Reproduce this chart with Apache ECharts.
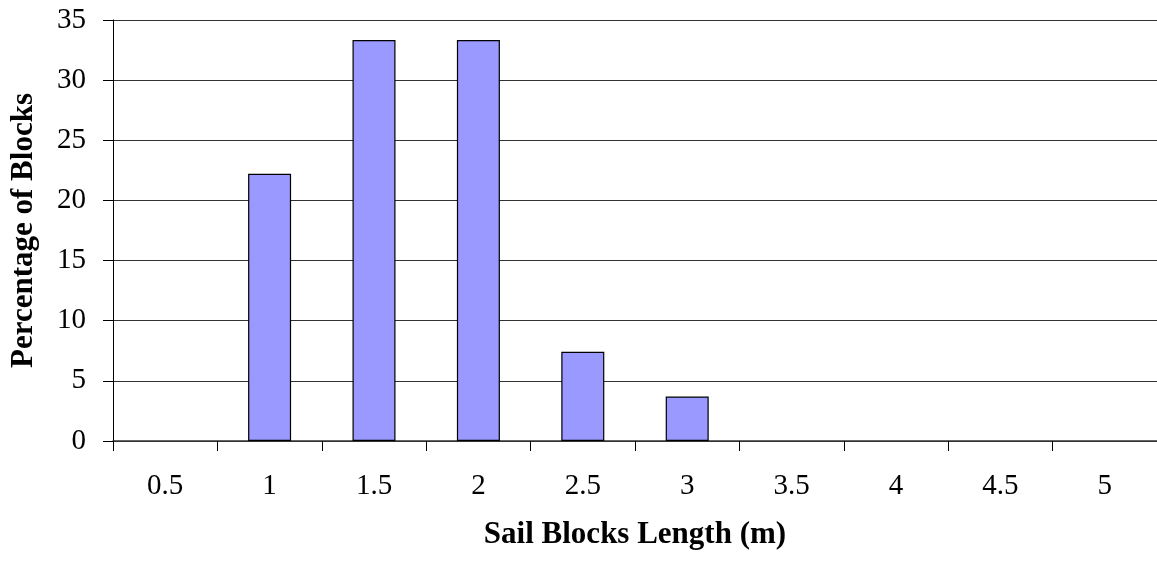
<!DOCTYPE html>
<html>
<head>
<meta charset="utf-8">
<style>
  html, body { margin: 0; padding: 0; background: #ffffff; }
  #chart { width: 1157px; height: 562px; }
</style>
<script src="https://cdn.jsdelivr.net/npm/echarts@6/dist/echarts.min.js"></script>
</head>
<body>
<div id="chart"></div>
<script>
// Block length classes (m)
const lengths = ['0.5', '1', '1.5', '2', '2.5', '3', '3.5', '4', '4.5', '5'];
// Share of blocks in each length class (%)
const percentages = [0, 22.22, 33.33, 33.33, 7.41, 3.70, 0, 0, 0, 0];
// Value axis ticks
const yTicks = [0, 5, 10, 15, 20, 25, 30, 35];

const serif = '"Liberation Serif", "Times New Roman", serif';

// Empty classes get no outline so no stray line sits on the axis
const barData = percentages.map(v =>
  v > 0 ? v : { value: v, itemStyle: { borderWidth: 0 } }
);

const chart = echarts.init(document.getElementById('chart'), null, { renderer: 'canvas' });

chart.setOption({
  animation: false,
  backgroundColor: '#ffffff',
  grid: { left: 110, top: 20, width: 1054, bottom: 121, containLabel: false },
  xAxis: {
    type: 'category',
    data: lengths,
    name: 'Sail Blocks Length (m)',
    nameLocation: 'middle',
    nameGap: 78,
    nameTextStyle: { fontFamily: serif, fontSize: 31, fontWeight: 'bold', color: '#000' },
    axisLine: { show: true, lineStyle: { color: '#333333', width: 1.5 } },
    axisTick: { show: true, alignWithLabel: false, length: 10, lineStyle: { color: '#000', width: 1 } },
    axisLabel: { fontFamily: serif, fontSize: 29, color: '#000', margin: 31 },
    splitLine: { show: false }
  },
  yAxis: {
    type: 'value',
    min: yTicks[0],
    max: yTicks[yTicks.length - 1],
    interval: yTicks[1] - yTicks[0],
    name: 'Percentage of Blocks',
    nameLocation: 'middle',
    nameGap: 74,
    nameTextStyle: { fontFamily: serif, fontSize: 31, fontWeight: 'bold', color: '#000' },
    axisLine: { show: true, lineStyle: { color: '#000', width: 1 } },
    axisTick: { show: true, length: 10, lineStyle: { color: '#000', width: 1 } },
    axisLabel: { fontFamily: serif, fontSize: 29, color: '#000', margin: 27 },
    splitLine: { show: true, lineStyle: { color: '#333333', width: 1.2 } }
  },
  series: [{
    type: 'bar',
    data: barData,
    barWidth: 43,
    itemStyle: { color: '#9999FF', borderColor: '#000', borderWidth: 1.2 }
  }]
});
</script>
</body>
</html>
